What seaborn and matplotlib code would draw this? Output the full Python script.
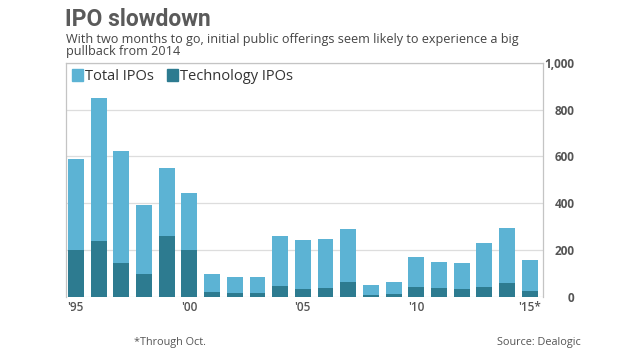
import matplotlib
matplotlib.use('Agg')
import matplotlib.pyplot as plt
from matplotlib.patches import Patch
import pandas as pd
import seaborn as sns

years = list(range(1995, 2016))
total_ipos = [588, 852, 625, 393, 550, 443, 97, 86, 84, 259, 241,
              247, 289, 50, 64, 171, 147, 145, 230, 294, 158]
tech_ipos = [200, 238, 143, 96, 261, 199, 19, 17, 17, 44, 32,
             37, 62, 6, 13, 43, 36, 34, 40, 60, 23]
tick_years = [1995, 2000, 2005, 2010, 2015]
tick_labels = ["'95", "'00", "'05", "'10", "'15*"]
y_ticks = [0, 200, 400, 600, 800, 1000]

total_color = '#5cb3d4'
tech_color = '#2d7b90'

df = pd.DataFrame({'year': years, 'total': total_ipos, 'tech': tech_ipos})

sns.set_style('white')
plt.rcParams['font.family'] = ['Open Sans', 'DejaVu Sans']

fig = plt.figure(figsize=(6.4, 3.6), dpi=100)
ax = fig.add_axes([0.103, 0.176, 0.745, 0.649])

sns.barplot(data=df, x='year', y='total', color=total_color, width=0.7,
            saturation=1, linewidth=0, ax=ax)
sns.barplot(data=df, x='year', y='tech', color=tech_color, width=0.7,
            saturation=1, linewidth=0, ax=ax)

ax.set_xlim(-0.44, 20.57)
ax.set_ylim(0, 1000)
ax.set_xlabel('')
ax.set_ylabel('')

ax.set_xticks([years.index(y) for y in tick_years])
ax.set_xticklabels(tick_labels, fontsize=8.5, color='#555555', fontweight='semibold')
ax.tick_params(axis='x', length=0, pad=3)

ax.yaxis.tick_right()
ax.set_yticks(y_ticks)
ax.set_yticklabels([f'{v:,}' for v in y_ticks], fontsize=8.5, color='#555555',
                   fontweight='bold', ha='right')
ax.tick_params(axis='y', length=0, pad=23)

ax.grid(axis='y', color='#dddddd', linewidth=0.9)
ax.set_axisbelow(True)
for side in ['top', 'left', 'right']:
    ax.spines[side].set_color('#c4c4c4')
    ax.spines[side].set_linewidth(0.9)
ax.spines['bottom'].set_visible(False)

handles = [Patch(color=total_color, label='Total IPOs'),
           Patch(color=tech_color, label='Technology IPOs')]
ax.legend(handles=handles, loc='upper left', ncol=2, frameon=False,
          fontsize=10.5, handlelength=0.75, handleheight=0.85,
          handletextpad=0.15, columnspacing=0.9,
          borderaxespad=0.1, borderpad=0.3, labelcolor='#333333')

fig.text(0.101, 0.978, 'IPO slowdown', fontsize=16.5, fontweight='bold',
         color='#5a5a5a', va='top', family=['Roboto', 'DejaVu Sans'])
fig.text(0.103, 0.908,
         'With two months to go, initial public offerings seem likely to experience a big\npullback from 2014',
         fontsize=9.1, color='#444444', va='top', linespacing=0.9)

fig.text(0.265, 0.042, '*Through Oct.', fontsize=7.8, color='#555555', ha='center')
fig.text(0.907, 0.042, 'Source: Dealogic', fontsize=7.8, color='#555555', ha='right')

plt.savefig('out.png', dpi=100)
